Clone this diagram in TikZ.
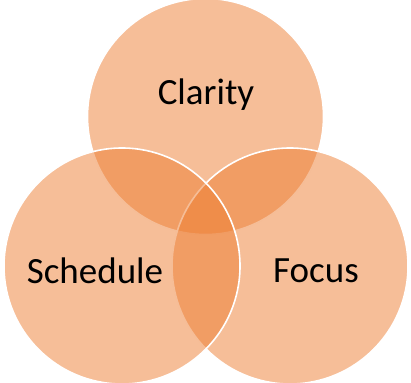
\documentclass[tikz,border=0pt]{standalone}
\usepackage{fontspec}
\setmainfont{Carlito}
\usepackage{tikz}
\definecolor{accent}{HTML}{ED7D31}
\tikzset{
  venn/.style={circle, minimum size=236pt, inner sep=0pt, fill=accent, fill opacity=.5, draw=white, draw opacity=1, line width=1.6pt},
  tag/.style={font=\fontsize{37}{40}\selectfont, text=black}
}

\begin{document}
\begin{tikzpicture}[x=1pt, y=-1pt]
        \useasboundingbox (0,0) rectangle (411,382);

        \node[venn] (top) at (205.5,116.5) {};
        \node[venn] (right) at (290,266) {};
        \node[venn] (left) at (122,266) {};

        \node[tag] (clarity) at (206,95) {Clarity};
        \node[tag] (schedule) at (95,271) {Schedule};
        \node[tag] (focus) at (316,271) {Focus};

    \end{tikzpicture}
\end{document}
